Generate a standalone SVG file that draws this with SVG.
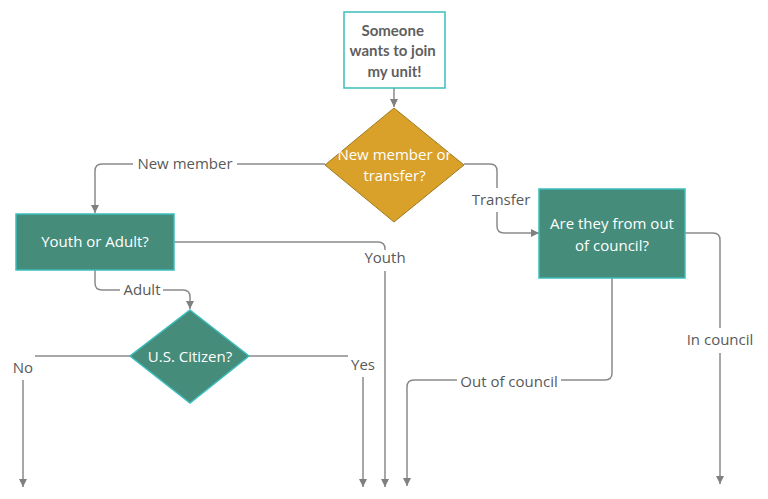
<svg xmlns="http://www.w3.org/2000/svg" width="768" height="499" viewBox="0 0 768 499">
<defs>
<marker id="arr" viewBox="0 0 10 10" refX="10" refY="5" markerWidth="8" markerHeight="8" markerUnits="userSpaceOnUse" orient="auto">
<path d="M0,0 L10,5 L0,10 Z" fill="#808080"/>
</marker>
<style>
.c{fill:none;stroke:#8a8a8a;stroke-width:1.5}
.a{marker-end:url(#arr)}
.lbl{font-family:"Open Sans","Noto Sans",sans-serif;font-size:15px;fill:#595959;text-anchor:middle}
.nt{font-family:"Open Sans","Noto Sans",sans-serif;font-size:15px;fill:#ffffff;text-anchor:middle}
.green{fill:#458C7A;stroke:#3DBDBD;stroke-width:1.5}
</style>
</defs>
<rect width="768" height="499" fill="#ffffff"/>
<g id="connectors">
<path class="c a" d="M394,88 V107"/>
<path class="c" d="M325,164 H237"/>
<path class="c a" d="M133,164 H102 Q95,164 95,171 V213"/>
<text class="lbl" x="185" y="169">New member</text>
<path class="c" d="M464,164 H490 Q497,164 497,171 V188"/>
<text class="lbl" x="501" y="205">Transfer</text>
<path class="c a" d="M497,212 V226 Q497,233 504,233 H539"/>
<path class="c" d="M174,242 H378 Q385,242 385,249 V250"/>
<text class="lbl" x="385" y="263">Youth</text>
<path class="c a" d="M385,271 V487"/>
<path class="c" d="M95,270 V283 Q95,290 102,290 H120"/>
<text class="lbl" x="142" y="295">Adult</text>
<path class="c a" d="M163,290 H183 Q190,290 190,297 V309"/>
<path class="c" d="M130,356 H35"/>
<text class="lbl" x="23" y="373">No</text>
<path class="c a" d="M23,380 V487"/>
<path class="c" d="M249,356 H348"/>
<text class="lbl" x="363" y="370">Yes</text>
<path class="c a" d="M363,377 V487"/>
<path class="c" d="M685,233 H713 Q720,233 720,240 V328"/>
<text class="lbl" x="720" y="345">In council</text>
<path class="c a" d="M720,353 V484"/>
<path class="c" d="M612,278 V373 Q612,380 605,380 H561"/>
<text class="lbl" x="509" y="387">Out of council</text>
<path class="c a" d="M457,380 H414 Q407,380 407,387 V486"/>
</g>
<g id="start">
<rect x="344" y="12" width="101" height="76" fill="#ffffff" stroke="#3DBDBD" stroke-width="1.5"/>
<text font-family="Lato,'Open Sans',sans-serif" font-weight="bold" font-size="15" fill="#5f5f5f" text-anchor="middle">
<tspan x="394.5" y="36">Someone</tspan>
<tspan x="394.5" y="56">wants to join</tspan>
<tspan x="394.5" y="77">my unit!</tspan>
</text>
</g>
<g id="newOrTransfer">
<polygon points="394,108 464,165 394,222 325,165" fill="#D9A02A" stroke="#A07A20" stroke-width="1"/>
<text class="nt" x="394.5" y="160">New member or</text>
<text class="nt" x="394.5" y="181">transfer?</text>
</g>
<g id="youthOrAdult">
<rect class="green" x="16" y="214" width="158" height="56"/>
<text class="nt" x="95" y="247">Youth or Adult?</text>
</g>
<g id="citizen">
<polygon class="green" points="190,310 249,356 190,403 130,356"/>
<text class="nt" x="190" y="362">U.S. Citizen?</text>
</g>
<g id="outOfCouncil">
<rect class="green" x="539" y="189" width="146" height="89"/>
<text class="nt" x="612" y="229">Are they from out</text>
<text class="nt" x="612" y="251">of council?</text>
</g>
</svg>
